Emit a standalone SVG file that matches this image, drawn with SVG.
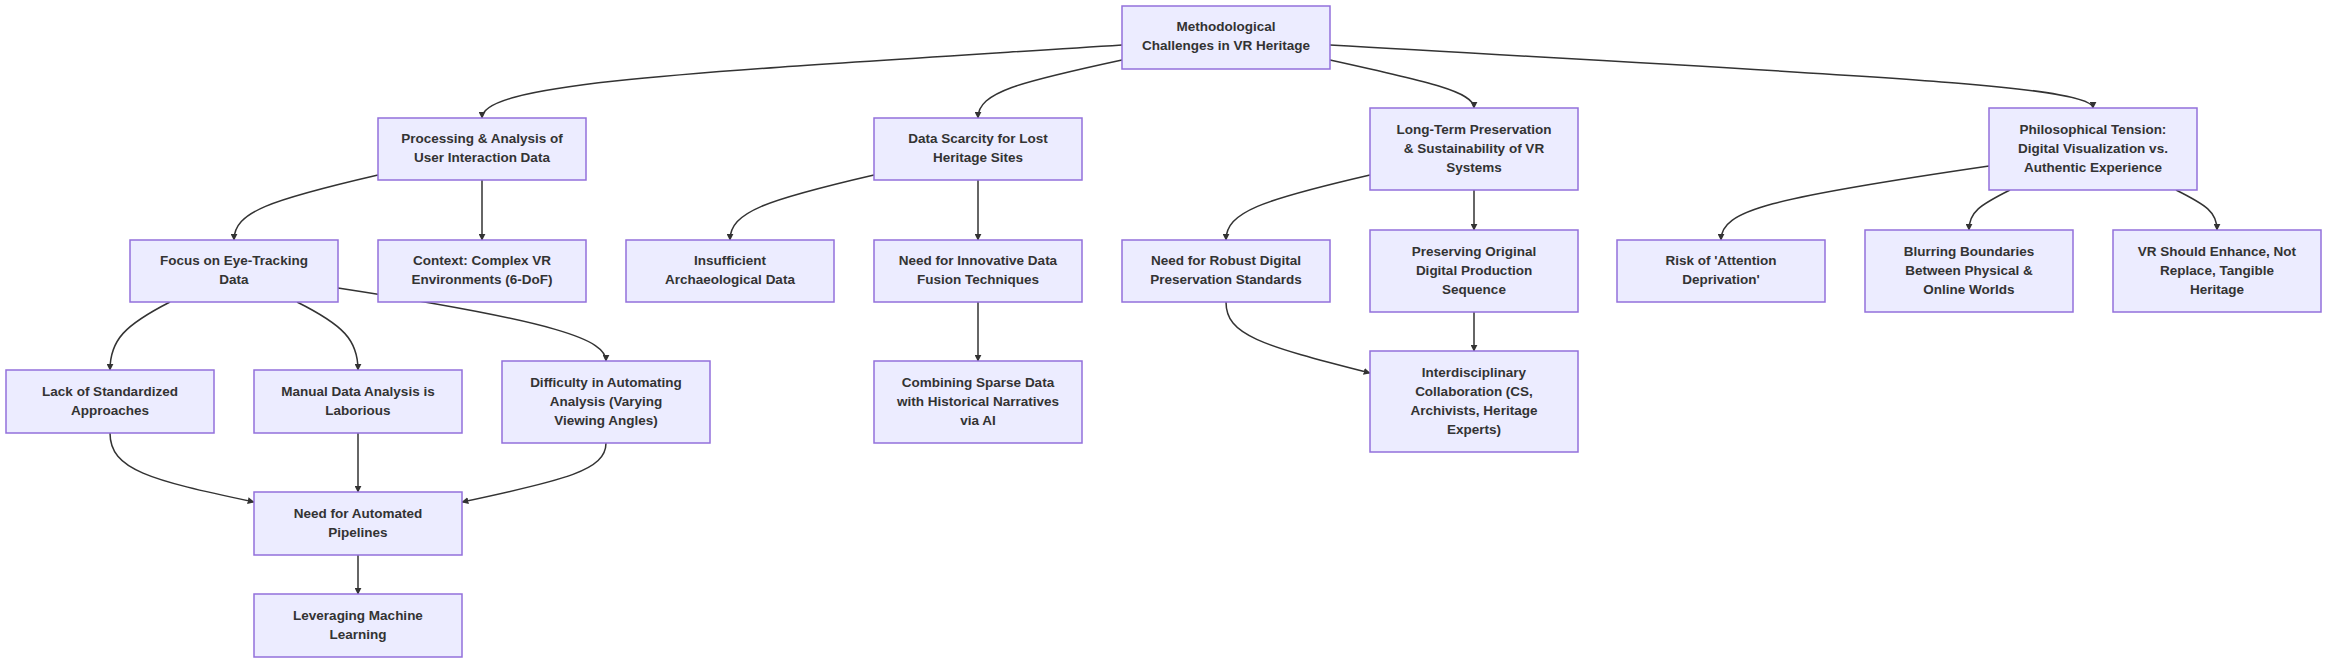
<svg xmlns="http://www.w3.org/2000/svg" width="2352" height="672" viewBox="0 0 2352 672">
<style>
.n rect{fill:#ECECFF;stroke:#9370DB;stroke-width:1.5}
.n text{font-family:"Liberation Sans",Arial,sans-serif;font-weight:bold;font-size:13.5px;fill:#333;text-anchor:middle}
.e path{fill:none;stroke:#333;stroke-width:1.5;marker-end:url(#a)}
</style>
<defs><marker id="a" viewBox="0 0 10 10" refX="9" refY="5" markerWidth="7" markerHeight="7" orient="auto" markerUnits="userSpaceOnUse"><path d="M0,0L10,5L0,10z" fill="#333"/></marker></defs>
<rect width="2352" height="672" fill="#fff"/>
<g class="e">
<path d="M1122,45 C700,72 482,82 482,118"/>
<path d="M1122,60 C1020,82 978,92 978,118"/>
<path d="M1330,60 C1430,82 1474,92 1474,108"/>
<path d="M1330,45 C1850,75 2093,85 2093,108"/>
<path d="M378,175 C270,200 234,212 234,240"/>
<path d="M482,180 L482,240"/>
<path d="M874,175 C766,200 730,212 730,240"/>
<path d="M978,180 L978,240"/>
<path d="M1370,175 C1262,200 1226,212 1226,240"/>
<path d="M1474,190 L1474,230"/>
<path d="M1989,166 C1770,198 1721,210 1721,240"/>
<path d="M2010,190 C1980,205 1969,212 1969,230"/>
<path d="M2176,190 C2206,205 2217,212 2217,230"/>
<path d="M170,302 C125,325 110,340 110,370"/>
<path d="M297,302 C343,325 358,340 358,370"/>
<path d="M338,288 C560,322 606,340 606,361"/>
<path d="M978,302 L978,361"/>
<path d="M1226,302 C1226,335 1260,345 1370,373"/>
<path d="M1474,312 L1474,351"/>
<path d="M110,433 C110,470 150,480 254,502"/>
<path d="M358,433 L358,492"/>
<path d="M606,443 C606,470 566,480 462,502"/>
<path d="M358,555 L358,594"/>
</g>
<g class="n" id="root"><rect x="1122" y="6" width="208" height="63"/><text x="1226" y="31">Methodological</text><text x="1226" y="50">Challenges in VR Heritage</text></g>
<g class="n" id="A"><rect x="378" y="118" width="208" height="62"/><text x="482" y="143">Processing &amp; Analysis of</text><text x="482" y="162">User Interaction Data</text></g>
<g class="n" id="B"><rect x="874" y="118" width="208" height="62"/><text x="978" y="143">Data Scarcity for Lost</text><text x="978" y="162">Heritage Sites</text></g>
<g class="n" id="C"><rect x="1370" y="108" width="208" height="82"/><text x="1474" y="134">Long-Term Preservation</text><text x="1474" y="153">&amp; Sustainability of VR</text><text x="1474" y="172">Systems</text></g>
<g class="n" id="D"><rect x="1989" y="108" width="208" height="82"/><text x="2093" y="134">Philosophical Tension:</text><text x="2093" y="153">Digital Visualization vs.</text><text x="2093" y="172">Authentic Experience</text></g>
<g class="n" id="E"><rect x="130" y="240" width="208" height="62"/><text x="234" y="265">Focus on Eye-Tracking</text><text x="234" y="284">Data</text></g>
<g class="n" id="F"><rect x="378" y="240" width="208" height="62"/><text x="482" y="265">Context: Complex VR</text><text x="482" y="284">Environments (6-DoF)</text></g>
<g class="n" id="G"><rect x="626" y="240" width="208" height="62"/><text x="730" y="265">Insufficient</text><text x="730" y="284">Archaeological Data</text></g>
<g class="n" id="H"><rect x="874" y="240" width="208" height="62"/><text x="978" y="265">Need for Innovative Data</text><text x="978" y="284">Fusion Techniques</text></g>
<g class="n" id="I"><rect x="1122" y="240" width="208" height="62"/><text x="1226" y="265">Need for Robust Digital</text><text x="1226" y="284">Preservation Standards</text></g>
<g class="n" id="J"><rect x="1370" y="230" width="208" height="82"/><text x="1474" y="256">Preserving Original</text><text x="1474" y="275">Digital Production</text><text x="1474" y="294">Sequence</text></g>
<g class="n" id="K"><rect x="1617" y="240" width="208" height="62"/><text x="1721" y="265">Risk of 'Attention</text><text x="1721" y="284">Deprivation'</text></g>
<g class="n" id="L"><rect x="1865" y="230" width="208" height="82"/><text x="1969" y="256">Blurring Boundaries</text><text x="1969" y="275">Between Physical &amp;</text><text x="1969" y="294">Online Worlds</text></g>
<g class="n" id="M"><rect x="2113" y="230" width="208" height="82"/><text x="2217" y="256">VR Should Enhance, Not</text><text x="2217" y="275">Replace, Tangible</text><text x="2217" y="294">Heritage</text></g>
<g class="n" id="N"><rect x="6" y="370" width="208" height="63"/><text x="110" y="396">Lack of Standardized</text><text x="110" y="415">Approaches</text></g>
<g class="n" id="O"><rect x="254" y="370" width="208" height="63"/><text x="358" y="396">Manual Data Analysis is</text><text x="358" y="415">Laborious</text></g>
<g class="n" id="P"><rect x="502" y="361" width="208" height="82"/><text x="606" y="387">Difficulty in Automating</text><text x="606" y="406">Analysis (Varying</text><text x="606" y="425">Viewing Angles)</text></g>
<g class="n" id="Q"><rect x="874" y="361" width="208" height="82"/><text x="978" y="387">Combining Sparse Data</text><text x="978" y="406">with Historical Narratives</text><text x="978" y="425">via AI</text></g>
<g class="n" id="R"><rect x="1370" y="351" width="208" height="101"/><text x="1474" y="377">Interdisciplinary</text><text x="1474" y="396">Collaboration (CS,</text><text x="1474" y="415">Archivists, Heritage</text><text x="1474" y="434">Experts)</text></g>
<g class="n" id="S"><rect x="254" y="492" width="208" height="63"/><text x="358" y="518">Need for Automated</text><text x="358" y="537">Pipelines</text></g>
<g class="n" id="T"><rect x="254" y="594" width="208" height="63"/><text x="358" y="620">Leveraging Machine</text><text x="358" y="639">Learning</text></g>
</svg>
